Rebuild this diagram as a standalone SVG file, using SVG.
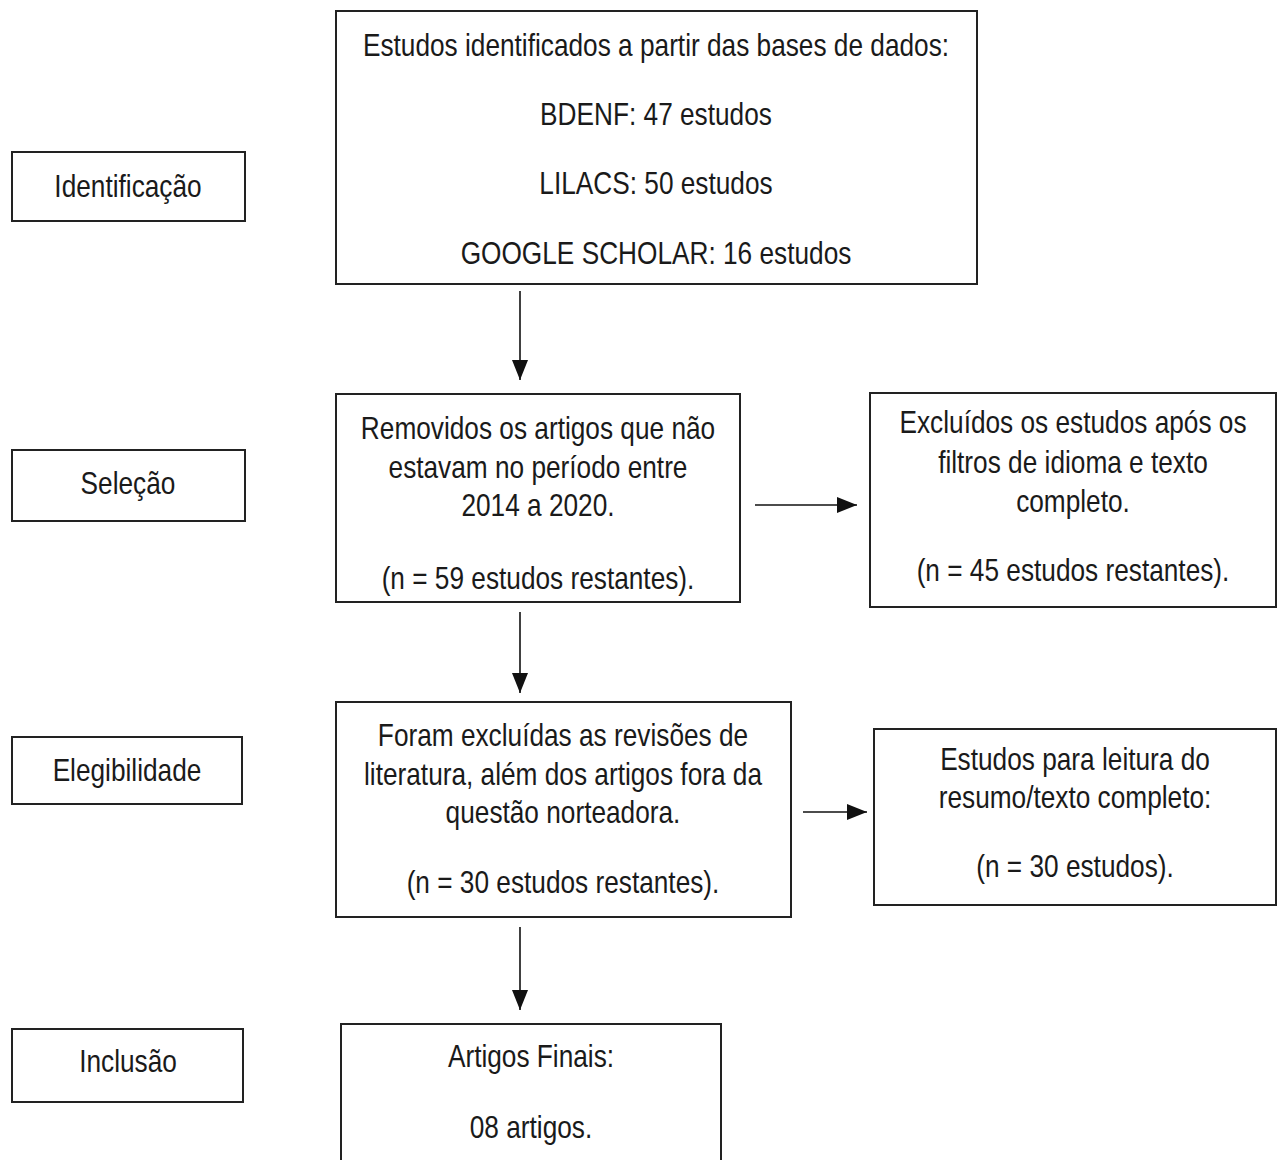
<svg xmlns="http://www.w3.org/2000/svg" width="1277" height="1160" viewBox="0 0 1277 1160">
<style>
.box{fill:#fff;stroke:#222;stroke-width:2}
.t{font-family:"Liberation Sans",Arial,sans-serif;font-size:32px;fill:#1a1a1a;text-anchor:middle}
.c{stroke:#111;stroke-width:1.6;fill:none}
</style>
<defs>
<marker id="ah" viewBox="0 0 20 16" refX="20" refY="8" markerWidth="20" markerHeight="16" markerUnits="userSpaceOnUse" orient="auto">
<path d="M0,0 L20,8 L0,16 Z" fill="#111"/>
</marker>
</defs>
<rect width="1277" height="1160" fill="#fff"/>

<g id="stage-identificacao">
<rect class="box" x="12" y="152" width="233" height="69"/>
<text class="t" transform="translate(128,197) scale(0.82,1)">Identificação</text>
</g>
<g id="stage-selecao">
<rect class="box" x="12" y="450" width="233" height="71"/>
<text class="t" transform="translate(128,494) scale(0.82,1)">Seleção</text>
</g>
<g id="stage-elegibilidade">
<rect class="box" x="12" y="737" width="230" height="67"/>
<text class="t" transform="translate(127,781) scale(0.82,1)">Elegibilidade</text>
</g>
<g id="stage-inclusao">
<rect class="box" x="12" y="1029" width="231" height="73"/>
<text class="t" transform="translate(128,1072) scale(0.82,1)">Inclusão</text>
</g>

<g id="identified">
<rect class="box" x="336" y="11" width="641" height="273"/>
<text class="t" transform="translate(656,56) scale(0.82,1)">Estudos identificados a partir das bases de dados:</text>
<text class="t" transform="translate(656,125) scale(0.82,1)">BDENF: 47 estudos</text>
<text class="t" transform="translate(656,194) scale(0.82,1)">LILACS: 50 estudos</text>
<text class="t" transform="translate(656,264) scale(0.82,1)">GOOGLE SCHOLAR: 16 estudos</text>
</g>

<g id="removed">
<rect class="box" x="336" y="394" width="404" height="208"/>
<text class="t" transform="translate(538,439) scale(0.82,1)">Removidos os artigos que não</text>
<text class="t" transform="translate(538,478) scale(0.82,1)">estavam no período entre</text>
<text class="t" transform="translate(538,516) scale(0.82,1)">2014 a 2020.</text>
<text class="t" transform="translate(538,589) scale(0.82,1)">(n = 59 estudos restantes).</text>
</g>

<g id="excluded-filters">
<rect class="box" x="870" y="393" width="406" height="214"/>
<text class="t" transform="translate(1073,433) scale(0.82,1)">Excluídos os estudos após os</text>
<text class="t" transform="translate(1073,473) scale(0.82,1)">filtros de idioma e texto</text>
<text class="t" transform="translate(1073,512) scale(0.82,1)">completo.</text>
<text class="t" transform="translate(1073,581) scale(0.82,1)">(n = 45 estudos restantes).</text>
</g>

<g id="excluded-reviews">
<rect class="box" x="336" y="702" width="455" height="215"/>
<text class="t" transform="translate(563,746) scale(0.82,1)">Foram excluídas as revisões de</text>
<text class="t" transform="translate(563,785) scale(0.82,1)">literatura, além dos artigos fora da</text>
<text class="t" transform="translate(563,823) scale(0.82,1)">questão norteadora.</text>
<text class="t" transform="translate(563,893) scale(0.82,1)">(n = 30 estudos restantes).</text>
</g>

<g id="full-reading">
<rect class="box" x="874" y="729" width="402" height="176"/>
<text class="t" transform="translate(1075,770) scale(0.82,1)">Estudos para leitura do</text>
<text class="t" transform="translate(1075,808) scale(0.82,1)">resumo/texto completo:</text>
<text class="t" transform="translate(1075,877) scale(0.82,1)">(n = 30 estudos).</text>
</g>

<g id="final">
<rect class="box" x="341" y="1024" width="380" height="150"/>
<text class="t" transform="translate(531,1067) scale(0.82,1)">Artigos Finais:</text>
<text class="t" transform="translate(531,1138) scale(0.82,1)">08 artigos.</text>
</g>

<g id="connectors">
<line class="c" x1="520" y1="291" x2="520" y2="380" marker-end="url(#ah)"/>
<line class="c" x1="520" y1="612" x2="520" y2="693" marker-end="url(#ah)"/>
<line class="c" x1="520" y1="927" x2="520" y2="1010" marker-end="url(#ah)"/>
<line class="c" x1="755" y1="505" x2="857" y2="505" marker-end="url(#ah)"/>
<line class="c" x1="803" y1="812" x2="867" y2="812" marker-end="url(#ah)"/>
</g>
</svg>
